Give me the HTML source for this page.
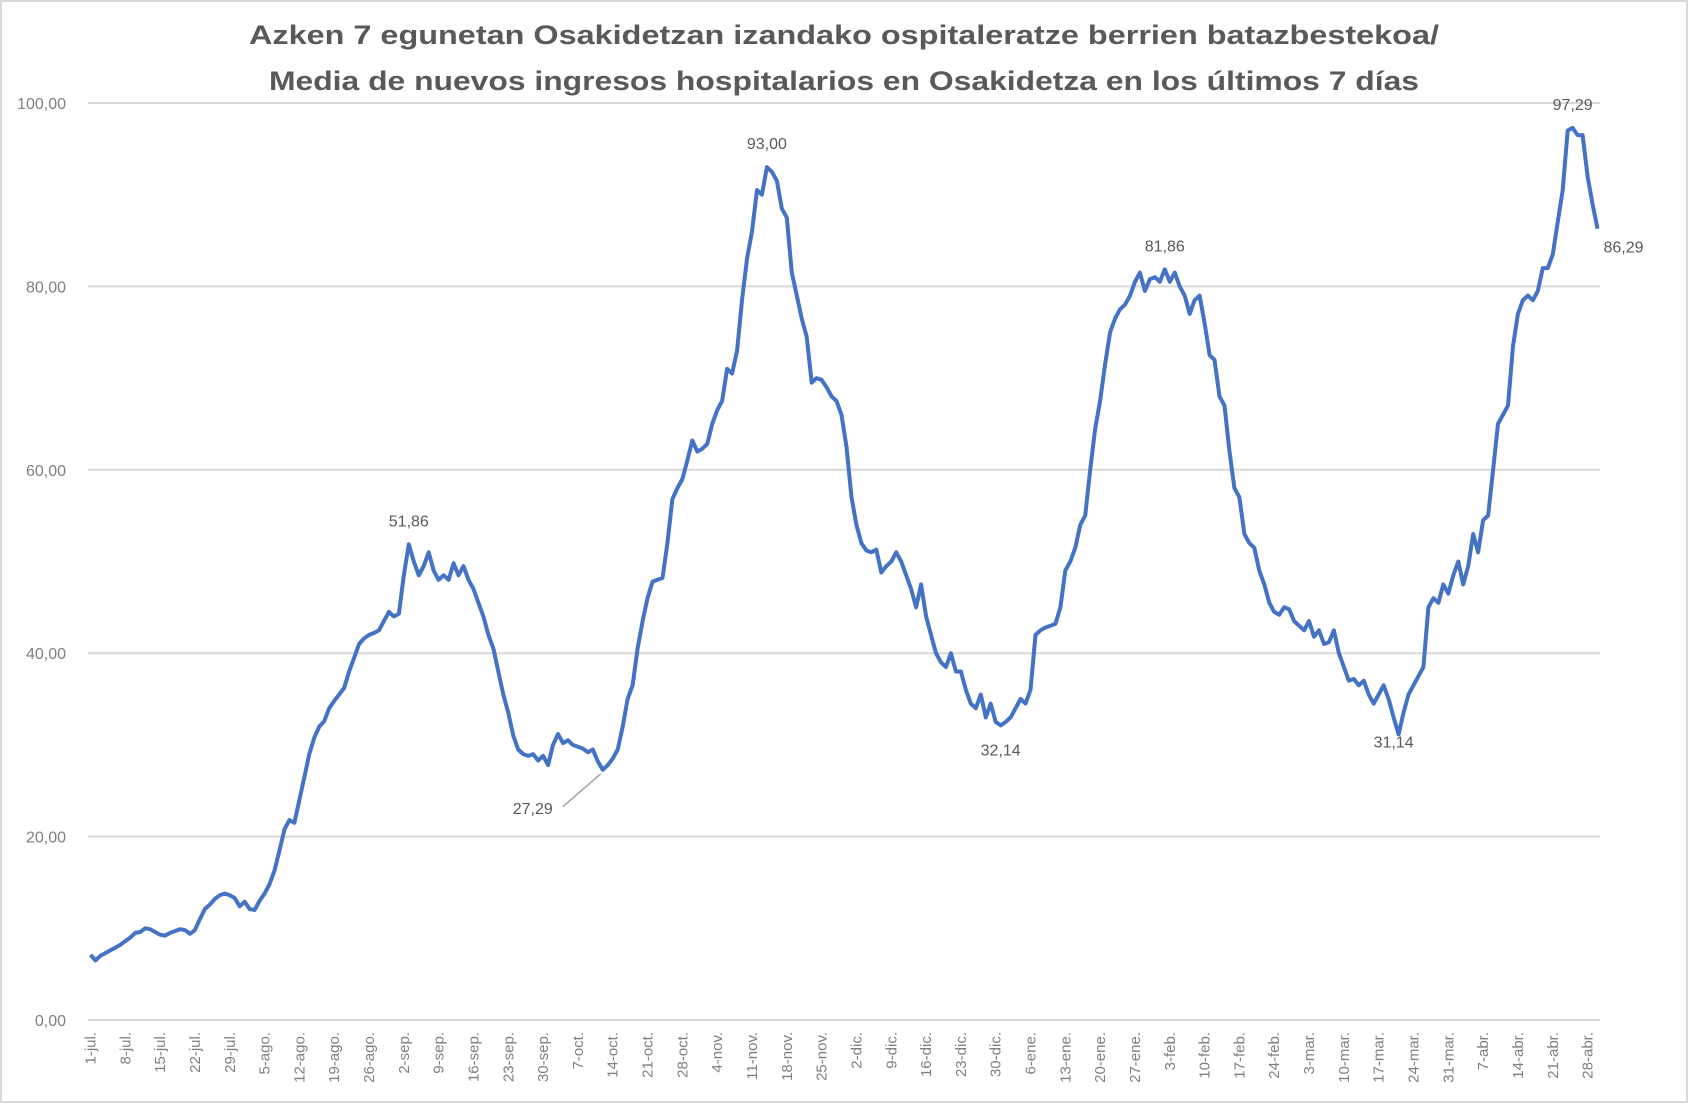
<!DOCTYPE html>
<html><head><meta charset="utf-8"><style>
html,body{margin:0;padding:0;background:#fff;}
svg{display:block;font-family:"Liberation Sans",sans-serif;}
</style></head><body>
<svg id="chart" width="1706" height="1116" viewBox="0 0 1706 1116">
<rect x="1" y="1" width="1686" height="1101" fill="#fff" stroke="#d9d9d9" stroke-width="2"/>
<text x="844" y="44" text-anchor="middle" font-size="27" font-weight="bold" fill="#595959" textLength="1190" lengthAdjust="spacingAndGlyphs">Azken 7 egunetan Osakidetzan izandako ospitaleratze berrien batazbestekoa/</text>
<text x="844" y="90" text-anchor="middle" font-size="27" font-weight="bold" fill="#595959" textLength="1150" lengthAdjust="spacingAndGlyphs">Media de nuevos ingresos hospitalarios en Osakidetza en los últimos 7 días</text>
<g id="grid"></g><g id="yticks"></g><g id="xticks"></g><g id="series"></g><g id="labels"></g>
</svg>
<script>
const yTicks=[0,20,40,60,80,100];
const yTickLabels=["0,00","20,00","40,00","60,00","80,00","100,00"];
const xTickLabels=["1-jul.","8-jul.","15-jul.","22-jul.","29-jul.","5-ago.","12-ago.","19-ago.","26-ago.","2-sep.","9-sep.","16-sep.","23-sep.","30-sep.","7-oct.","14-oct.","21-oct.","28-oct.","4-nov.","11-nov.","18-nov.","25-nov.","2-dic.","9-dic.","16-dic.","23-dic.","30-dic.","6-ene.","13-ene.","20-ene.","27-ene.","3-feb.","10-feb.","17-feb.","24-feb.","3-mar.","10-mar.","17-mar.","24-mar.","31-mar.","7-abr.","14-abr.","21-abr.","28-abr."];
const values=[
7.1,6.5,7.0,7.3,7.6,7.9,8.2,
8.6,9.0,9.5,9.6,10.0,9.9,9.6,
9.3,9.2,9.5,9.7,9.9,9.8,9.4,
9.8,11.0,12.1,12.6,13.2,13.6,13.8,
13.6,13.3,12.4,12.9,12.1,12.0,13.0,
13.8,14.8,16.3,18.5,20.8,21.8,21.5,
24.0,26.5,29.0,30.8,32.0,32.6,34.0,
34.8,35.5,36.2,38.0,39.5,41.0,41.6,
42.0,42.2,42.5,43.5,44.5,44.0,44.3,
48.5,51.86,50.0,48.5,49.5,51.0,49.0,
48.0,48.5,48.0,49.8,48.5,49.5,48.0,
47.0,45.5,44.0,42.0,40.5,38.0,35.5,
33.5,31.0,29.5,29.0,28.8,29.0,28.3,
28.8,27.8,30.0,31.2,30.2,30.5,30.0,
29.8,29.6,29.2,29.5,28.2,27.29,27.8,
28.5,29.5,32.0,35.0,36.5,40.5,43.5,
46.0,47.8,48.0,48.2,52.0,56.8,58.0,
59.0,61.0,63.2,62.0,62.3,62.8,65.0,
66.5,67.5,71.0,70.5,73.0,78.5,83.0,
86.0,90.5,90.0,93.0,92.5,91.5,88.5,
87.5,81.5,79.0,76.5,74.5,69.5,70.0,
69.8,69.0,68.0,67.5,66.0,62.5,57.0,
54.0,52.0,51.2,51.0,51.3,48.8,49.5,
50.0,51.0,50.0,48.5,47.0,45.0,47.5,
44.0,42.0,40.0,39.0,38.5,40.0,38.0,
38.0,36.0,34.5,34.0,35.5,33.0,34.5,
32.5,32.14,32.5,33.0,34.0,35.0,34.5,
36.0,42.0,42.5,42.8,43.0,43.2,45.0,
49.0,50.0,51.5,54.0,55.0,60.0,64.5,
67.5,71.5,75.0,76.5,77.5,78.0,79.0,
80.5,81.5,79.5,80.8,81.0,80.5,81.86,
80.5,81.5,80.0,79.0,77.0,78.5,79.0,
76.0,72.5,72.0,68.0,67.0,62.0,58.0,
57.0,53.0,52.0,51.5,49.0,47.5,45.5,
44.5,44.2,45.0,44.8,43.5,43.0,42.5,
43.5,41.8,42.5,41.0,41.2,42.5,40.0,
38.5,37.0,37.2,36.5,37.0,35.5,34.5,
35.5,36.5,35.0,33.0,31.14,33.5,35.5,
36.5,37.5,38.5,45.0,46.0,45.5,47.5,
46.5,48.5,50.0,47.5,49.5,53.0,51.0,
54.5,55.0,60.0,65.0,66.0,67.0,73.5,
77.0,78.5,79.0,78.5,79.5,82.0,82.0,
83.5,87.0,90.5,97.0,97.29,96.5,96.5,
92.0,89.0,86.29];
const annotations=[64,103,136,183,216,262,298,303];
const annotationText=["51,86","27,29","93,00","32,14","81,86","31,14","97,29","86,29"];
const annotationPos=["above","below-left","above","below","above","below","above","right"];

const NS="http://www.w3.org/2000/svg";
const X0=88,X1=1600,Y0=1020,Y1=103,YMAX=100;
const n=values.length;
const bw=(X1-X0)/n;
function xs(i){return X0+bw*(i+0.5);}
function ys(v){return Y0-(v/YMAX)*(Y0-Y1);}
function mk(tag,attrs,parent){const e=document.createElementNS(NS,tag);for(const k in attrs)e.setAttribute(k,attrs[k]);parent.appendChild(e);return e;}
const grid=document.getElementById('grid'),yt=document.getElementById('yticks'),xt=document.getElementById('xticks'),ser=document.getElementById('series'),lab=document.getElementById('labels');
yTicks.forEach((t,i)=>{
  const l=mk('line',{x1:X0,x2:X1,y1:ys(t),y2:ys(t),stroke:'#d9d9d9','stroke-width':2},grid);
  
  
  const tx=mk('text',{x:66,y:ys(t)+6,'text-anchor':'end','font-size':16,fill:'#7f7f7f'},yt);
  tx.textContent=yTickLabels[i];
  
  
});
xTickLabels.forEach((s,k)=>{
  const x=xs(k*7);
  const tx=mk('text',{x:0,y:0,'text-anchor':'end','font-size':15,fill:'#7f7f7f',transform:`translate(${x+5},${Y0+12}) rotate(-90)`},xt);
  tx.textContent=s;
  
  
});
let d='';values.forEach((v,i)=>{d+=(i?'L':'M')+xs(i).toFixed(1)+','+ys(v).toFixed(1);});
const p=mk('path',{d:d,fill:'none',stroke:'#4472c4','stroke-width':4,'stroke-linejoin':'round'},ser);


annotations.forEach((i,k)=>{
  const x=xs(i),y=ys(values[i]);let tx,ty,anc='middle';
  const pos=annotationPos[k];
  if(pos==='above'){tx=x;ty=y-18;}
  else if(pos==='below'){tx=x;ty=y+30;}
  else if(pos==='right'){tx=x+6;ty=y+24;anc='start';}
  else {tx=x-70;ty=y+44;anc='middle';
    const ll=mk('line',{x1:x-40,y1:y+37,x2:x-2,y2:y+4,stroke:'#a6a6a6','stroke-width':1.5},lab);
    
    }
  const t=mk('text',{x:tx,y:ty,'text-anchor':anc,'font-size':16,fill:'#595959'},lab);
  t.textContent=annotationText[k];
  
  
});
</script>
</body></html>
